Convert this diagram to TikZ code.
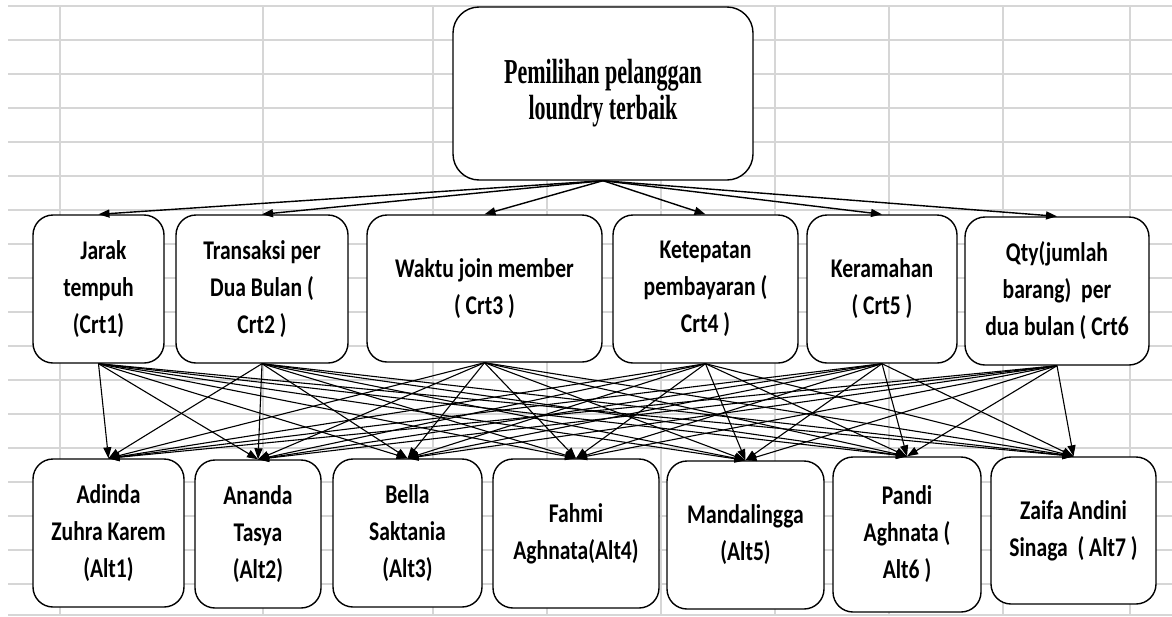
\documentclass[tikz,border=0pt]{standalone}
\usepackage{fontspec}
\usetikzlibrary{arrows.meta}
\newfontfamily\crtfont[FakeStretch=0.80]{Carlito}
\newfontfamily\ttlfont[FakeStretch=0.63]{Liberation Serif}
\definecolor{gridgray}{HTML}{D6D6D6}
\begin{document}
\begin{tikzpicture}[x=1pt,y=-1pt,
  box/.style={draw, line width=1.4pt, rounded corners=20pt, fill=white, inner sep=0pt, align=center,
    font={\crtfont\bfseries\fontsize{27}{37}\selectfont}},
  titlebox/.style={box, rounded corners=26pt, font={\ttlfont\bfseries\fontsize{35}{36}\selectfont}},
  link/.style={-{Triangle[length=11pt,width=8pt]}, line width=1.1pt},
  toplink/.style={link, line width=1.4pt},
  gridline/.style={draw=gridgray, line width=1.2pt}]
\useasboundingbox (0,0) rectangle (1172,616);
% spreadsheet grid
\foreach \k in {0,...,17} { \draw[gridline] (8,{6+34*\k}) -- (1172,{6+34*\k}); }
\draw[gridline] (8,615) -- (1172,615);
\foreach \xx in {60,263,433,547,661,775,889,1003,1130} { \draw[gridline] (\xx,6) -- (\xx,616); }
% goal
\node[titlebox, minimum width=300pt, minimum height=173pt] (goal) at (603,93.5) {Pemilihan pelanggan\\loundry terbaik};
% criteria
\node[box, minimum width=131pt, minimum height=148pt] (c1) at (98.5,289) {\ \ Jarak\\tempuh\\(Crt1)};
\node[box, minimum width=172pt, minimum height=148pt] (c2) at (262,289) {Transaksi per\\Dua Bulan (\\Crt2 )};
\node[box, minimum width=235pt, minimum height=147pt] (c3) at (484.5,288.5) {Waktu join member\\( Crt3 )};
\node[box, minimum width=185pt, minimum height=148pt] (c4) at (705.5,289) {Ketepatan\\pembayaran (\\Crt4 )};
\node[box, minimum width=150pt, minimum height=148pt] (c5) at (882,289) {Keramahan\\( Crt5 )};
\node[box, minimum width=184pt, minimum height=148pt] (c6) at (1057,291) {Qty(jumlah\\barang)\ \ per\\dua bulan ( Crt6};
% alternatives
\node[box, minimum width=151pt, minimum height=148pt] (a1) at (108.5,533) {Adinda\\Zuhra Karem\\(Alt1)};
\node[box, minimum width=126pt, minimum height=148pt] (a2) at (258,534) {Ananda\\Tasya\\(Alt2)};
\node[box, minimum width=149pt, minimum height=148pt] (a3) at (407.5,533) {Bella\\Saktania\\(Alt3)};
\node[box, minimum width=166pt, minimum height=149pt] (a4) at (576,533.5) {Fahmi\\Aghnata(Alt4)};
\node[box, minimum width=157pt, minimum height=148pt] (a5) at (745.5,535) {Mandalingga\\(Alt5)};
\node[box, minimum width=148pt, minimum height=155pt] (a6) at (907,534.5) {Pandi\\Aghnata (\\Alt6 )};
\node[box, minimum width=165pt, minimum height=147pt] (a7) at (1073.5,530.5) {Zaifa Andini\\Sinaga\ \ ( Alt7 )};
% goal -> criteria
\foreach \c in {c1,c2,c3,c4,c5,c6} { \draw[toplink] (goal.south) -- (\c.north); }
% criteria -> alternatives
\foreach \c in {c1,c2,c3,c4,c5,c6} {
  \foreach \a in {a1,a2,a3,a4,a5,a6,a7} { \draw[link] (\c.south) -- (\a.north); }
}
\end{tikzpicture}
\end{document}
